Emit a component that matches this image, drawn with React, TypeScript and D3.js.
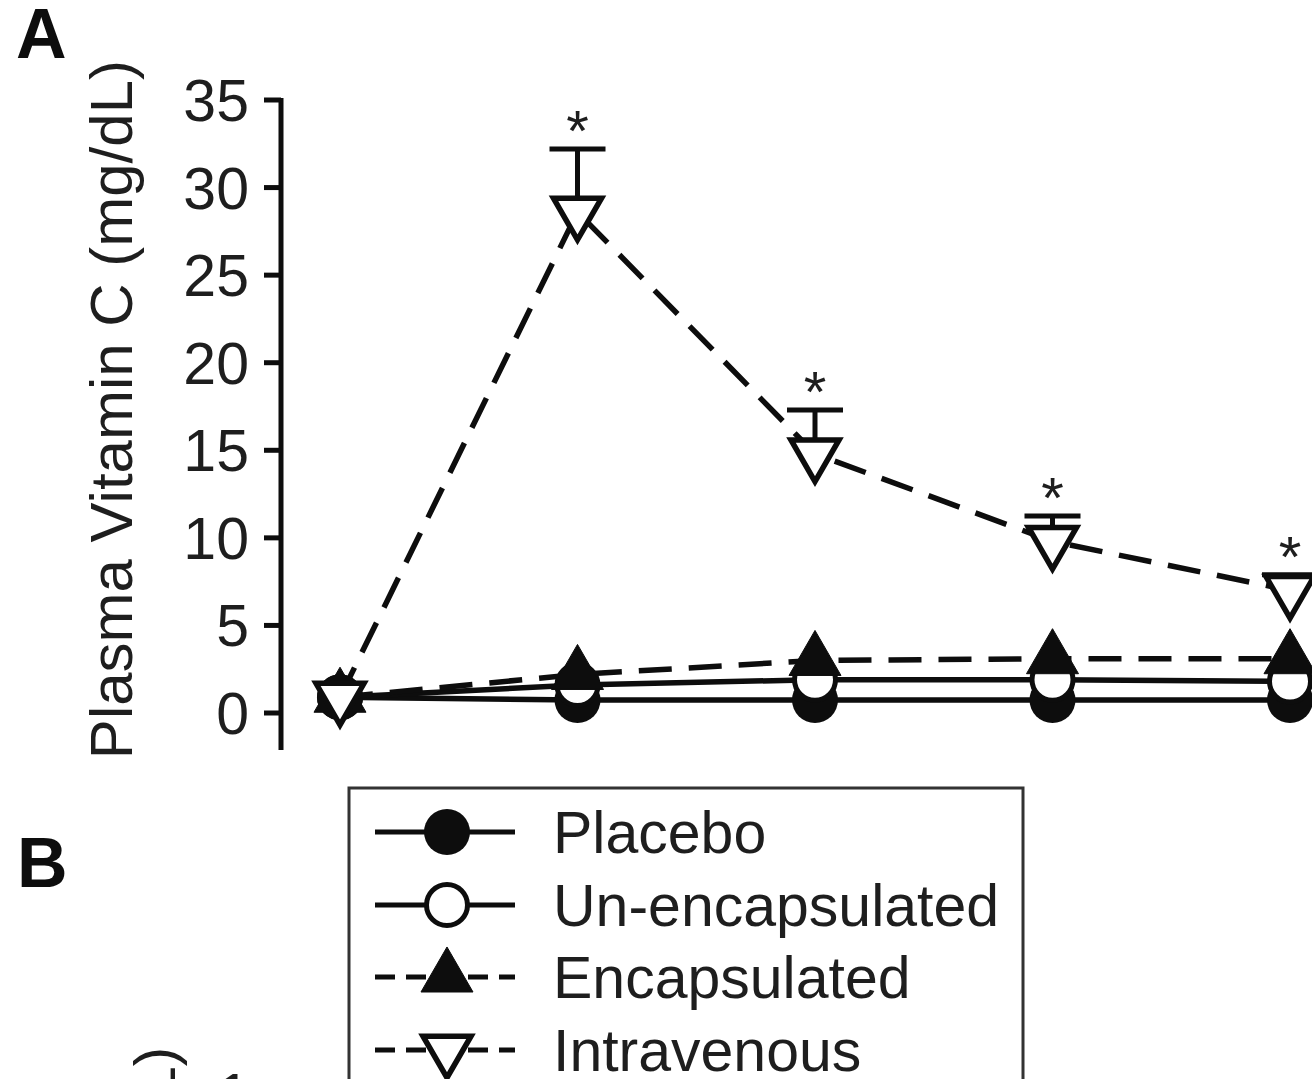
import React from 'react';
import * as d3 from 'd3';

// Plasma vitamin C over time, four groups; IV has +SE bars and significance stars.
const timepoints = [0, 1, 2, 3, 4];
const placebo = [0.9, 0.74, 0.74, 0.74, 0.74];
const unencapsulated = [0.9, 1.6, 1.9, 1.9, 1.8];
const encapsulated = [0.9, 2.2, 3.0, 3.1, 3.1];
const intravenous = [0.9, 28.6, 14.8, 9.8, 7.0];
const intravenousSE = [0, 3.6, 2.5, 1.45, 0.9];
const significant = [false, true, true, true, true];
const yTicks = [0, 5, 10, 15, 20, 25, 30, 35];
const seriesNames = ['Placebo', 'Un-encapsulated', 'Encapsulated', 'Intravenous'];

const FONT = '"Liberation Sans", Arial, Helvetica, sans-serif';
const INK = '#0d0d0d';

const x = d3.scaleLinear().domain([0, 4]).range([340, 1290]);
const y = d3.scaleLinear().domain([0, 35]).range([713, 100]);

type Kind = 'filledCircle' | 'openCircle' | 'filledTriangle' | 'openTriangleDown';

const series: { name: string; values: number[]; dashed: boolean; kind: Kind }[] = [
  { name: seriesNames[0], values: placebo, dashed: false, kind: 'filledCircle' },
  { name: seriesNames[1], values: unencapsulated, dashed: false, kind: 'openCircle' },
  { name: seriesNames[2], values: encapsulated, dashed: true, kind: 'filledTriangle' },
  { name: seriesNames[3], values: intravenous, dashed: true, kind: 'openTriangleDown' },
];

const circleFilled = d3.symbol(d3.symbolCircle, Math.PI * 23 * 23)() ?? '';
const circleOpen = d3.symbol(d3.symbolCircle, Math.PI * 20.5 * 20.5)() ?? '';
const triFilled = d3.symbol(d3.symbolTriangle, 1171)() ?? '';
const triOpen = d3.symbol(d3.symbolTriangle, 1000)() ?? '';

function Marker({ kind, cx, cy }: { kind: Kind; cx: number; cy: number }) {
  if (kind === 'filledCircle') {
    return <path d={circleFilled} transform={`translate(${cx},${cy})`} fill={INK} />;
  }
  if (kind === 'openCircle') {
    return (
      <path d={circleOpen} transform={`translate(${cx},${cy})`} fill="#fff" stroke={INK} strokeWidth={5} />
    );
  }
  if (kind === 'filledTriangle') {
    return <path d={triFilled} transform={`translate(${cx},${cy})`} fill={INK} stroke={INK} strokeWidth={1} />;
  }
  return (
    <path
      d={triOpen}
      transform={`translate(${cx},${cy}) rotate(180)`}
      fill="#fff"
      stroke={INK}
      strokeWidth={5.5}
      strokeLinejoin="miter"
    />
  );
}

export default function App() {
  const line = d3
    .line<number>()
    .x((_, i) => x(timepoints[i]))
    .y((v) => y(v));

  const legendRows = [832, 905, 977, 1050];

  return (
    <svg
      width={1312}
      height={1079}
      style={{ position: 'absolute', left: 0, top: 0, background: '#fff' }}
      fontFamily={FONT}
    >
      <rect width={1312} height={1079} fill="#fff" />

      {/* panel letters */}
      <text x={16} y={58} fontSize={70} fontWeight="bold" fill={INK}>A</text>
      <text x={17} y={887} fontSize={70} fontWeight="bold" fill={INK}>B</text>

      {/* y axis */}
      <line x1={281} x2={281} y1={y(35) - 2} y2={750} stroke={INK} strokeWidth={5} />
      {yTicks.map((t) => (
        <g key={t}>
          <line x1={264} x2={281} y1={y(t)} y2={y(t)} stroke={INK} strokeWidth={5} />
          <text x={249} y={y(t) + 21} fontSize={59} textAnchor="end" fill="#1e1e1e">
            {t}
          </text>
        </g>
      ))}
      <text
        transform={`translate(132,${60}) rotate(-90)`}
        fontSize={60}
        textAnchor="end"
        fill="#1e1e1e"
      >
        Plasma Vitamin C (mg/dL)
      </text>

      {/* series: line, error bars, markers */}
      {series.map((s) => (
        <g key={s.name}>
          <path
            d={line(s.values) ?? ''}
            fill="none"
            stroke={INK}
            strokeWidth={5.5}
            strokeDasharray={s.dashed ? '33 17' : undefined}
          />
          {s.kind === 'openTriangleDown'
            ? s.values.map((v, i) =>
                intravenousSE[i] > 0 ? (
                  <g key={`e${i}`}>
                    <line
                      x1={x(timepoints[i])}
                      x2={x(timepoints[i])}
                      y1={y(v)}
                      y2={y(v + intravenousSE[i])}
                      stroke={INK}
                      strokeWidth={5}
                    />
                    <line
                      x1={x(timepoints[i]) - 28}
                      x2={x(timepoints[i]) + 28}
                      y1={y(v + intravenousSE[i])}
                      y2={y(v + intravenousSE[i])}
                      stroke={INK}
                      strokeWidth={5}
                    />
                  </g>
                ) : null,
              )
            : null}
          {s.values.map((v, i) => (
            <Marker key={i} kind={s.kind} cx={x(timepoints[i])} cy={y(v)} />
          ))}
        </g>
      ))}

      {/* significance stars */}
      {intravenous.map((v, i) =>
        significant[i] ? (
          <text
            key={`s${i}`}
            x={x(timepoints[i])}
            y={y(v + intravenousSE[i]) + 2}
            fontSize={58}
            textAnchor="middle"
            fill="#1e1e1e"
          >
            *
          </text>
        ) : null,
      )}

      {/* legend */}
      <rect x={349} y={788} width={674} height={400} fill="#fff" stroke="#333" strokeWidth={3} />
      {series.map((s, i) => (
        <g key={`l${s.name}`}>
          <line
            x1={375}
            x2={515}
            y1={legendRows[i]}
            y2={legendRows[i]}
            stroke={INK}
            strokeWidth={5}
            strokeDasharray={s.dashed ? '20 11' : undefined}
          />
          <Marker kind={s.kind} cx={447} cy={legendRows[i]} />
          <text x={553} y={legendRows[i] + 21} fontSize={59} fill="#1e1e1e">
            {s.name}
          </text>
        </g>
      ))}

      {/* top of panel B, cut off by the frame */}
      <text transform="translate(175,1047) rotate(-90)" fontSize={58} textAnchor="end" fill="#1e1e1e">
        (mg/dL)
      </text>
      <text x={250} y={1114} fontSize={58} textAnchor="end" fill="#1e1e1e">1</text>
    </svg>
  );
}
